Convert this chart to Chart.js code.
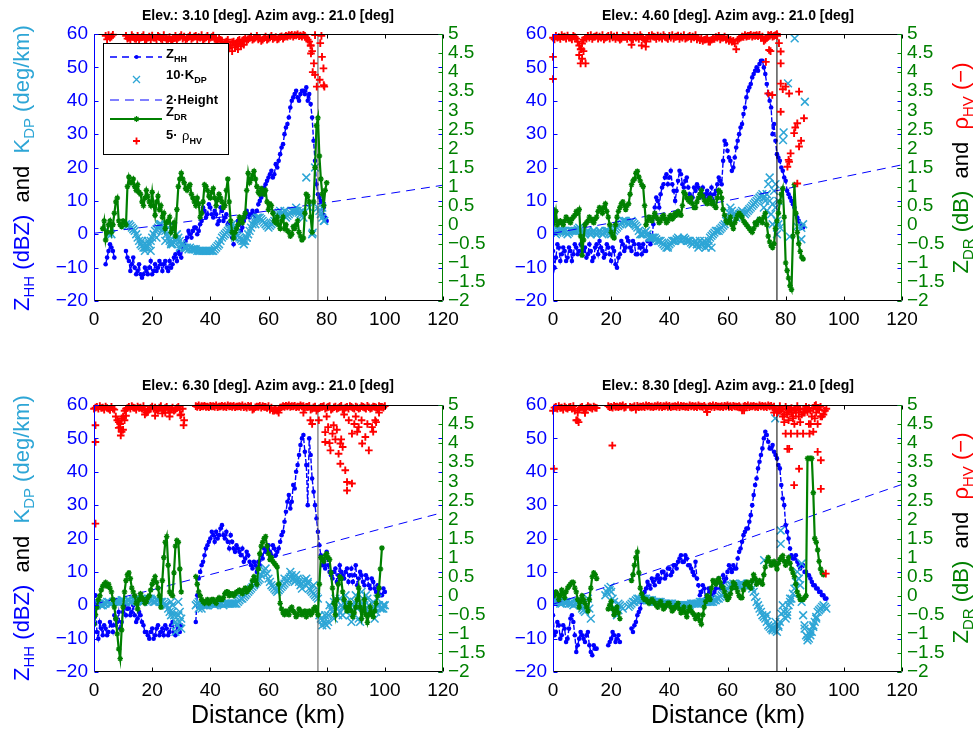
<!DOCTYPE html>
<html>
<head>
<meta charset="utf-8">
<script src="https://cdn.jsdelivr.net/npm/chart.js@4.4.0/dist/chart.umd.min.js"></script>
<style>
  body { margin: 0; background: #fff; width: 977px; height: 729px; position: relative; overflow: hidden;
         font-family: "Liberation Sans", Arial, sans-serif; }
  canvas { position: absolute; }
  .title { position: absolute; font-weight: bold; font-size: 14px; white-space: nowrap; transform: translate(-50%, -50%); }
  .ylab { position: absolute; font-size: 22px; white-space: nowrap; transform: translate(-50%, -50%) rotate(-90deg); }
  .xlab { position: absolute; font-size: 25px; white-space: nowrap; transform: translate(-50%, -50%); }
  .ylab sub { font-size: 15px; vertical-align: -0.3em; }
</style>
</head>
<body>
<canvas id="c1" width="488" height="364" style="left:0;top:0"></canvas>
<canvas id="c2" width="489" height="364" style="left:488px;top:0"></canvas>
<canvas id="c3" width="488" height="365" style="left:0;top:364px"></canvas>
<canvas id="c4" width="489" height="365" style="left:488px;top:364px"></canvas>

<div class="title" id="t1" style="left:268px;top:15px"></div>
<div class="title" id="t2" style="left:728px;top:15px"></div>
<div class="title" id="t3" style="left:268px;top:385px"></div>
<div class="title" id="t4" style="left:728px;top:385px"></div>

<div class="ylab" style="left:23px;top:168px"><span style="color:#0000ff">Z<sub>HH</sub> (dBZ)</span>&nbsp; and &nbsp;<span style="color:#2ea6d6">K<sub>DP</sub> (deg/km)</span></div>
<div class="ylab" style="left:23px;top:538px"><span style="color:#0000ff">Z<sub>HH</sub> (dBZ)</span>&nbsp; and &nbsp;<span style="color:#2ea6d6">K<sub>DP</sub> (deg/km)</span></div>
<div class="ylab" style="left:962px;top:168px"><span style="color:#008000">Z<sub>DR</sub> (dB)</span>&nbsp; and &nbsp;<span style="color:#ff0000">ρ<sub>HV</sub> (−)</span></div>
<div class="ylab" style="left:962px;top:538px"><span style="color:#008000">Z<sub>DR</sub> (dB)</span>&nbsp; and &nbsp;<span style="color:#ff0000">ρ<sub>HV</sub> (−)</span></div>
<div class="xlab" style="left:268px;top:714px">Distance (km)</div>
<div class="xlab" style="left:728px;top:714px">Distance (km)</div>

<script>
// ---- data: index i of a value array = i km, "Half" arrays hold the readings at i + 0.5 km ----
const titles = [
  "Elev.: 3.10 [deg]. Azim avg.: 21.0 [deg]",
  "Elev.: 4.60 [deg]. Azim avg.: 21.0 [deg]",
  "Elev.: 6.30 [deg]. Azim avg.: 21.0 [deg]",
  "Elev.: 8.30 [deg]. Azim avg.: 21.0 [deg]"
];
const radarLineKm = 77;
const heightKm = [0, 20, 40, 60, 80, 100, 120];

// panel 1 : 3.10 deg
const zhh1 = [null,null,null,null,-9,-5,-4,-7,null,null,null,-5,-8,-9,-10,-11,-12,-12,-11,-10,-12,-9,-10,-9,-9,-10,-8,-9,-6,-5,-7,-3,-1,0,1,2,1,4,7,6,8,5,6,4,7,5,3,2,-3,2,3,2,5,6,6,6,7,10,12,15,17,19,18,20,24,27,32,35,40,42,41,42,43,44,42,35,22,12,10,8,4];
const zhhHalf1 = [null,null,null,null,-7,-3,-5,null,null,null,null,-7,-11,-7,-12,-9,-13,-10,-12,-8,-11,-11,-8,-11,-8,-11,-10,-7,-8,-6,-4,-2,1,-1,2,0,3,8,5,9,6,7,3,8,4,6,1,-1,0,4,1,4,7,5,7,5,9,11,14,16,18,17,21,22,26,30,33,38,41,43,40,43,42,40,39,28,15,11,6,5,null];
const kdp1 = [null,null,null,null,null,0,0,null,null,null,null,3,3,2,1,-1,-3,-4,-4,-3,-1,1,2,3,2,0,-2,-3,-2,-1,-3,-4,-4,-4,-4.5,-4.5,-5,-5,-5,-5,-5,-5,-4,-3,-1,0,1,2,1,0,-1,-2,-2,0,2,4,5,5,4,3,2,3,4,6,7,6,5,6,7,7,7,6,5,17,8,0,20,8,6,4];
const kdpHalf1 = [null,null,null,null,null,0.5,null,null,null,null,null,2.5,2.5,1.5,0,-2,-3.5,-4,-3.5,-2,0,1.5,2.5,2.5,1,-1,-2.5,-2.5,-1.5,-2,-3.5,-4,-4.5,-4.5,-4.5,-5,-5,-5,-5,-5,-5,-4.5,-3.5,-2,-0.5,0.5,1.5,1.5,0.5,-0.5,-1.5,-2,-1,1,3,4.5,5,4.5,3.5,2.5,2.5,3.5,5,6.5,6.5,5.5,5.5,6.5,7,7,6.5,5.5,null,null,null,null,null,7,5,null];
const kdpExtra1 = [[16.5,-2],[17.5,-5],[18.5,-2],[19.5,-5],[21.5,-1],[22.5,3],[23.5,1],[24.5,-2],[25.5,2],[26.5,-3],[28.5,0],[29.5,-4],[47.5,3],[48.5,-1],[51.5,-3],[52.5,-1],[55.5,3],[65.5,7],[69.5,8],[71.5,7],[75.2,0.5],[78.5,8],[79.2,4]];
const zdr1 = [null,null,null,-0.1,-0.4,0.0,-0.2,0.3,0.7,0.0,0.1,0.0,1.25,1.1,1.0,1.05,0.8,0.5,0.9,0.6,0.85,0.25,0.75,0.5,0.3,0.05,0.2,-0.1,-0.3,1.0,1.35,1.1,0.9,1.05,0.7,0.5,0.55,0.3,1.05,0.9,0.7,0.95,0.5,0.8,0.6,0.5,1.2,0.1,-0.35,-0.1,0.2,0.05,0.3,1.35,1.2,1.4,1.0,0.8,0.9,0.9,0.4,0.5,0.1,0.2,-0.1,0.2,0.0,-0.2,-0.25,-0.1,0.1,-0.3,-0.35,0.8,0.6,-0.2,1.5,2.8,1.2,0.5,1.1];
const zdrHalf1 = [null,null,null,0.1,-0.2,0.1,0.0,0.6,0.1,-0.05,0.05,1.0,1.1,1.2,0.9,0.85,0.6,0.7,0.75,0.5,0.5,0.6,0.4,0.2,-0.1,0.1,-0.2,0.05,0.4,1.2,1.2,0.95,1.0,0.8,0.6,0.7,0.2,0.6,1.0,0.75,0.85,0.7,0.65,0.7,0.45,0.9,0.6,-0.2,-0.2,0.0,0.15,0.2,0.9,1.1,1.3,1.2,0.85,0.95,0.8,0.6,0.55,0.3,0.05,0.0,0.1,-0.1,-0.15,-0.3,-0.05,0.0,-0.2,-0.4,0.3,0.75,0.2,0.6,2.6,1.8,0.8,0.9,null];
const rho1 = [null,null,null,null,4.95,4.97,4.93,null,null,null,null,4.95,4.9,4.97,4.88,4.95,4.9,4.97,4.85,4.93,4.96,4.9,4.95,4.88,4.97,4.85,4.92,4.82,4.95,4.9,4.97,4.93,4.88,4.96,4.9,4.95,4.92,4.97,4.88,4.95,4.9,4.96,4.85,4.9,4.8,4.75,4.85,4.7,4.8,4.72,4.85,4.8,4.9,4.86,4.93,4.88,4.95,4.9,4.85,4.93,4.88,4.95,4.9,4.86,4.92,4.88,4.95,4.97,4.98,4.97,4.99,4.96,4.98,4.9,4.8,4.55,4.97];
const rhoHalf1 = [null,null,null,null,4.86,4.9,4.98,null,null,null,null,4.88,4.85,4.92,4.87,4.84,4.92,4.86,4.9,4.85,4.9,4.86,4.92,4.84,4.9,4.87,4.83,4.9,4.86,4.92,4.88,4.85,4.92,4.87,4.93,4.86,4.9,4.85,4.91,4.86,4.92,4.88,4.8,4.85,4.7,4.8,4.65,4.78,4.7,4.82,4.75,4.85,4.82,4.9,4.85,4.9,4.86,4.82,4.9,4.85,4.91,4.87,4.92,4.88,4.94,4.92,4.93,4.95,4.93,4.96,4.94,4.93,4.95,4.85,4.7,null,null];
const rhoExtra1 = [[44.5,4.58],[46.5,4.62],[47.5,4.55],[48.5,4.65],[49.5,4.6],[50.5,4.68],[51.5,4.72],[74.5,4.7],[74.6,4.49],[75.6,4.23],[76,3.93],[76.6,3.62],[75.2,4.0],[77.6,3.8],[77.8,4.76],[78.4,4.4],[78.9,4.1],[79,3.66],[79.2,3.62],[78.2,4.95]];
const height1 = [0.3, 2.4, 4.7, 7.0, 9.5, 12.0, 14.7];

// panel 2 : 4.60 deg
const zhh2 = [-5,-7,-4,-6,-5,-7,-5,-6,-4,-5,-1,-4,-6,-5,-7,-3,-2,-5,-6,-4,-8,-5,-10,-6,-3,-4,-2,-5,-3,-6,-4,-3,-5,0,-2,8,10,12,15,18,17,15,10,16,18,14,17,12,11,13,14,12,11,13,12,10,13,17,15,28,25,22,20,26,30,33,38,43,45,48,50,51,52,48,42,38,33,24,22,19,16,12,10,8,5,3,2];
const zhhHalf2 = [-10,-3,-8,-4,-8,-4,-8,-3,-6,-3,-5,-7,-3,-8,-4,-6,-4,-7,-3,-6,-4,-9,-7,-2,-5,-1,-4,-2,-6,-3,-6,-5,-2,-3,3,11,8,14,17,15,19,13,13,19,15,16,14,10,14,15,11,14,12,11,14,12,15,16,22,27,23,19,23,28,32,36,41,44,47,49,49,52,50,45,40,30,28,23,20,17,13,11,9,6,4,2,null];
const kdp2 = [1,0,1,1,1,0,1,1,1,2,1,0,1,0,1,0,1,0,1,1,0,1,2,3,4,4,3,4,3,2,0,0,1,-1,-1,-1,-2,-2,-3,-4,-3,-2,-2,-1,-2,-1,-2,-2,-3,-2,-4,-3,-2,-3,-1,0,1,1,2,3,5,8,6,5,6,7,6,7,8,9,10,11,12,10,15,6,13,4,2];
const kdpHalf2 = [0.5,0.5,1,1,0.5,0.5,1,1,1.5,1.5,0.5,0.5,0.5,0.5,0.5,0.5,0.5,0.5,1,0.5,0.5,1.5,2.5,3.5,4,3.5,3.5,3.5,2.5,1,0,0.5,0,-1,-1,-1.5,-2,-2.5,-3.5,-3.5,-2.5,-2,-1.5,-1.5,-1.5,-1.5,-2,-2.5,-2.5,-3,-3.5,-2.5,-2.5,-2,-0.5,0.5,1,1.5,2.5,4,6.5,7,5.5,5.5,6.5,6.5,6.5,7.5,8.5,9.5,10.5,11.5,11,12,10,9,8,3,null];
const kdpExtra2 = [[79.1,28.2],[79.3,30.5],[80.8,45.2],[83.1,58.7],[86.6,39.7],[81.4,-0.7],[85.4,-1.5],[85.4,1.9],[84,2.3],[86,3],[74.5,17],[73.5,12],[76.5,15],[77.5,10],[73.5,7],[75.5,3],[77,0],[72.5,8],[71.5,4],[54.5,-4],[52.5,-4],[50.5,-2],[53.5,-3.5],[39.5,-4],[49.5,-3]];
const zdr2 = [0.4,0.35,0.05,0.05,0.1,0.15,0.05,0.2,0.35,0.4,-0.8,0.0,0.1,0.15,0.05,0.2,0.45,0.3,0.55,0.2,-0.2,-0.35,0.2,0.45,0.6,0.4,0.55,1.05,1.2,1.4,1.15,1.0,0.0,0.2,0.1,0.3,0.15,0.1,0.25,0.05,0.2,0.15,0.3,0.35,0.25,0.85,0.7,0.6,0.55,0.45,0.7,0.9,0.65,0.55,0.7,0.6,0.45,0.9,0.7,0.25,0.05,0.2,-0.1,0.15,0.3,0.2,0.05,-0.05,-0.15,-0.1,0.0,0.15,0.05,0.3,-0.3,-0.55,-0.5,0.1,0.6,0.95,-1.0,-1.4,-1.7,1.05,-0.2,-0.7,-0.9];
const zdrHalf2 = [0.1,0.0,0.1,0.0,0.2,0.1,0.15,0.25,0.3,-0.3,-0.4,0.05,0.2,0.1,0.15,0.35,0.4,0.45,0.35,0.0,-0.3,0.0,0.35,0.55,0.5,0.5,0.8,1.15,1.35,1.25,1.05,0.5,0.1,0.15,0.2,0.2,0.05,0.2,0.15,0.1,0.25,0.2,0.25,0.3,0.5,0.8,0.65,0.7,0.45,0.6,0.8,0.75,0.6,0.65,0.55,0.5,0.7,0.85,0.4,0.1,0.1,0.0,0.05,0.25,0.25,0.1,0.0,-0.1,-0.2,0.05,0.1,0.1,0.2,0.0,-0.45,-0.6,-0.1,0.3,0.8,0.2,-1.2,-1.6,-0.3,0.3,-0.5,-0.85,null];
const rho2 = [4.9,4.95,4.92,4.97,4.93,4.96,4.9,4.95,4.88,4.7,4.75,4.9,4.95,4.97,4.92,4.96,4.93,4.97,4.9,4.95,4.97,4.93,4.96,4.85,4.95,4.92,4.97,4.9,4.95,4.93,4.97,4.9,4.8,4.95,4.97,4.92,4.96,4.93,4.97,4.9,4.95,4.97,4.92,4.96,4.93,4.97,4.9,4.95,4.93,4.97,4.9,4.88,4.85,4.9,4.8,4.88,4.92,4.95,4.9,4.93,4.88,4.85,4.82,4.6,4.88,4.93,4.97,4.95,4.98,4.96,4.97,4.98,4.93,4.85,4.97,4.98,4.95,5.0];
const rhoHalf2 = [4.86,4.9,4.87,4.92,4.88,4.9,4.86,4.92,4.8,4.6,4.85,4.88,4.9,4.87,4.93,4.88,4.9,4.86,4.92,4.88,4.91,4.87,4.9,4.88,4.92,4.87,4.91,4.86,4.9,4.87,4.92,4.85,4.9,4.88,4.93,4.87,4.9,4.88,4.92,4.87,4.9,4.88,4.93,4.87,4.9,4.88,4.92,4.87,4.91,4.86,4.84,4.82,4.86,4.8,4.85,4.87,4.9,4.86,4.9,4.85,4.82,4.8,4.75,4.85,4.9,4.92,4.93,4.95,4.93,4.95,4.94,4.9,4.82,4.9,4.95,4.93,4.97,null];
const rhoExtra2 = [[0,4.4],[0,3.82],[9,4.45],[9.5,4.23],[10,4.35],[10.5,4.55],[11.2,4.23],[9.8,4.6],[27,4.72],[30.5,4.7],[31.9,4.67],[73.2,4.27],[74.3,4.58],[74,3.44],[75.4,3.4],[74.8,4.55],[77.1,4.95],[77.7,4.76],[78.3,4.54],[78.3,4.23],[78.3,3.7],[79,3.55],[80,3.62],[81.2,3.44],[78.3,2.96],[84.6,3.49],[86.3,2.79],[84,2.66],[82.9,2.4],[83.3,2.55],[81.7,1.87],[81.2,1.65],[84.6,2.05],[85.3,2.2],[84,1.08],[80.6,1.52],[81,1.7]];
const height2 = [0.3, 3.4, 6.7, 10.1, 13.6, 17.2, 20.8];

// panel 3 : 6.30 deg
const zhh3 = [-2,-8,-5,-9,-7,-8,-6,-3,-5,-7,-2,-3,-1,-2,-3,-4,-3,-6,-8,-10,-7,-9,-6,-8,-9,-7,-8,-5,-9,-7,-6,null,null,null,null,-5,8,12,15,18,20,21,22,21,24,20,19,21,17,18,16,17,14,15,12,13,10,12,14,16,18,15,17,16,19,22,28,33,31,35,42,48,51,42,50,38,30,22,15,13,16,10,8,11,9,10,8,11,9,7,12,8,9,6,8,5,7,4,5,3,4];
const zhhHalf3 = [3,-10,-7,-6,-9,-5,-8,-6,-2,-5,0,-1,-3,0,-5,-2,-5,-8,-9,-8,-10,-7,-9,-7,-6,-9,-6,-8,-6,-8,null,null,null,null,null,3,10,13,17,19,22,19,20,23,21,22,17,19,16,17,15,13,16,13,11,12,13,15,17,17,16,18,15,17,21,25,31,29,36,40,45,50,46,30,45,34,26,18,12,11,12,9,10,7,12,9,10,7,11,9,6,10,7,9,6,8,5,6,3,5,null];
const kdp3 = [0,0,0.5,0,0.5,1,0.5,1,1,1,1.5,1,1.5,1,1.5,2,1.5,1,1.5,2,1.5,1,1.5,1,0.5,0,-2,0,-5,1,-7,null,null,null,null,0,1,-1,0,0,0.5,0.5,0.5,0.5,0.5,0.5,0.5,0.5,0.5,0.5,1.5,2,3,4,5,6,7,8,10,11,8,6,5,4,5,6,7,8,9,7,8,6,7,8,5,4,3,2,-4,-5,-6,0,-2,2,-3,0,-1,1,-3,0,3,-4,4,0,2,-3,1,-2,0,-1,0];
const kdpHalf3 = [0,0.5,0,0.5,1,0.5,1,1,1,1.5,1,1.5,1,1.5,2,2,1,1.5,2,2,1,1.5,1,1,0,-1,-3,-3,-6,-2,null,null,null,null,null,0.5,0,0,0,0.5,0.5,0,0.5,0.5,0,0.5,0.5,0.5,0.5,1,2,2.5,3.5,4.5,5.5,6.5,7.5,9,10.5,9.5,7,5.5,4.5,4.5,5.5,6.5,7.5,8.5,8,7.5,7,6.5,7.5,6.5,4.5,3.5,2.5,-3,-4.5,-5.5,-3,-1,1,-1,-2,-0.5,0,-1,-1.5,1,-1,0,2,-1,0,-1,-0.5,0,-1,0,null];
const kdpExtra3 = [[28,-8],[29,-3],[29.5,-5],[30,-4],[27,-2],[26.5,1],[36,-1],[78.5,-6],[79.5,-3],[80.5,-5],[82.5,-4],[84.5,2],[85.5,-3],[86.5,3],[88.5,-5],[90.5,-1],[91.5,-5],[93.5,3],[94.5,-2],[96.5,-4],[97.5,2],[99.5,-1],[65.5,8],[67.5,10],[69.5,9],[71.5,5],[73.5,7],[75.5,6]];
const zdr3 = [-0.75,-0.3,0.0,0.25,0.35,0.3,0.1,-0.3,-1.0,-1.65,-0.3,0.4,0.6,0.2,0.0,-0.35,0.05,-0.1,-0.15,0.0,0.3,0.5,0.2,-0.3,1.0,1.55,0.1,0.0,1.3,1.4,0.1,null,null,null,null,0.5,0.1,-0.1,-0.2,-0.1,-0.15,-0.1,-0.2,-0.05,-0.1,0.05,0.1,0.05,0.0,0.1,0.15,0.05,0.2,0.15,0.25,0.5,0.3,1.1,1.4,1.55,1.1,1.0,0.85,0.75,-0.2,-0.45,-0.4,-0.5,-0.3,-0.45,-0.5,-0.4,-0.45,-0.55,-0.4,-0.45,-0.3,-0.5,1.0,0.9,1.1,0.95,0.2,-0.5,0.3,0.45,-0.1,-0.4,-0.2,-0.55,-0.3,0.2,-0.6,-0.1,-0.7,-0.3,-0.55,-0.2,0.2,1.25];
const zdrHalf3 = [-0.5,-0.1,0.15,0.3,0.25,0.2,-0.1,-0.6,-1.4,-0.9,0.1,0.55,0.45,0.1,-0.2,-0.1,-0.05,-0.2,-0.05,0.15,0.4,0.35,0.0,0.4,1.4,0.8,0.05,0.6,1.45,0.7,null,null,null,null,null,0.3,0.0,-0.15,-0.15,-0.2,-0.1,-0.15,-0.1,-0.1,-0.05,0.1,0.0,0.05,0.05,0.1,0.1,0.15,0.1,0.2,0.4,0.4,0.7,1.3,1.5,1.3,0.95,0.9,0.8,0.3,-0.35,-0.5,-0.45,-0.35,-0.4,-0.55,-0.35,-0.5,-0.4,-0.45,-0.5,-0.35,-0.4,0.3,0.95,1.05,1.0,0.6,-0.2,-0.1,0.5,0.1,-0.3,-0.3,-0.4,-0.45,-0.1,-0.3,-0.4,-0.5,-0.5,-0.45,-0.4,0.0,0.7,null];
const rho3 = [4.9,4.95,4.97,4.93,4.96,4.9,4.95,4.88,4.6,4.5,4.7,4.9,4.95,4.97,4.92,4.96,4.93,4.97,4.8,4.9,4.96,4.93,4.85,4.97,4.9,4.95,4.8,4.93,4.88,4.95,4.75,4.6,null,null,null,4.97,4.99,4.97,4.98,4.96,4.98,4.97,4.99,4.96,4.98,4.97,4.99,4.97,4.98,4.96,4.97,4.99,4.96,4.98,4.97,4.9,4.96,4.98,4.97,4.95,4.97,4.93,4.9,4.85,4.93,4.97,4.98,4.99,4.97,4.98,4.96,4.99,4.97,4.95,4.98,4.9,4.96,4.9,4.95,4.97,4.93,4.97,4.9,4.96,4.92,4.98,4.9,4.95,4.97,4.92,4.96,4.9,4.97,4.93,4.98,4.9,4.96,4.93,4.97,4.95,4.97];
const rhoHalf3 = [4.93,4.9,4.92,4.88,4.92,4.87,4.9,4.7,4.4,4.65,4.85,4.92,4.9,4.93,4.88,4.92,4.9,4.85,4.88,4.92,4.9,4.88,4.93,4.87,4.92,4.88,4.9,4.85,4.92,4.88,4.9,null,null,null,null,4.95,4.94,4.96,4.95,4.94,4.96,4.95,4.94,4.96,4.95,4.94,4.96,4.95,4.94,4.96,4.95,4.94,4.93,4.95,4.88,4.94,4.95,4.93,4.95,4.92,4.88,4.85,4.88,4.9,4.94,4.95,4.96,4.95,4.96,4.94,4.95,4.96,4.92,4.95,4.88,4.94,4.85,4.92,4.95,4.9,4.95,4.88,4.94,4.9,4.95,4.88,4.93,4.9,4.95,4.9,4.94,4.92,4.95,4.9,4.94,4.92,4.95,4.9,4.95,4.93,null];
const rhoExtra3 = [[0.5,4.47],[0.5,4.03],[0.5,1.89],[8.5,4.55],[9,4.42],[9.5,4.3],[10,4.35],[10.5,4.6],[11,4.72],[9.2,4.2],[17.5,4.75],[18.5,4.82],[21,4.72],[23.5,4.78],[24.5,4.8],[26,4.7],[29.7,4.73],[30.8,4.47],[62,4.85],[63.5,4.8],[72,4.8],[74.4,4.6],[75,4.5],[77.3,4.6],[79.5,4.29],[79.5,4.03],[80.5,4.42],[81.3,3.81],[82.4,4.47],[82,4.25],[83,4.1],[84.1,3.72],[84.7,3.46],[84.7,3.99],[85.5,3.9],[86.4,3.29],[87,2.98],[88.7,2.94],[87,2.76],[87.6,4.6],[88.7,4.25],[89.5,4.5],[90,4.7],[91,4.42],[92.2,3.99],[93.3,4.16],[94.5,3.81],[95.6,4.42],[96.7,4.6],[96,4.3],[98,4.8],[86,4.75],[90.5,4.3],[92,4.6],[94,4.5],[97,4.55],[85,4.1],[83.5,4.35],[81,4.0],[80,4.7]];
const height3 = [0.3, 4.6, 9.2, 13.8, 18.5, 23.2, 27.8];

// panel 4 : 8.30 deg
const zhh4 = [-3,-8,-6,-9,-7,-10,-4,-5,-14,-10,-9,-11,-8,-14,-12,-13,null,null,null,-12,-10,-9,-10,-11,null,null,null,-7,-6,-3,-1,3,5,6,8,6,9,8,10,9,11,10,12,13,15,13,14,12,10,13,6,4,5,3,4,3,5,8,6,7,10,11,12,11,16,19,22,23,27,33,38,43,47,52,49,47,46,44,41,32,24,20,15,14,13,11,12,10,9,7,6,5,4,3,2];
const zhhHalf4 = [-9,-5,-10,-6,-11,-7,-3,-9,-12,-8,-10,-9,-12,-15,-13,null,null,null,null,-11,-8,-11,-9,null,null,null,null,-8,-5,-2,1,4,7,5,7,8,7,10,8,11,9,12,11,14,13,15,12,11,9,8,3,6,2,5,2,4,7,5,9,8,12,10,11,14,17,21,23,25,30,36,41,45,50,51,47,48,45,42,36,30,22,17,14,15,12,12,10,9,8,6,5,4,3,2,null];
const kdp4 = [1,1,1,0.5,1,1,0.5,0,1,1,-1,-2,2,-4,null,null,null,null,3,5,4,1,-3,0,-1,null,-0.5,0.5,1,2,1.5,2,2,1.5,1.5,1,1,1,0.5,0.5,0.5,0.5,0,0,0,0,0,0,0.5,0.5,0.5,1,1,1,1,1,1.5,2,3,4,5,6,6.5,6,6,6.5,6,6.5,6,4,1,-1,-3,-4,-6,-7,-7,-8,-5,0,-4,0,2,5,10,6,-3,-9,-10,-8,-5,-2,-1,0,-1];
const kdpHalf4 = [1,1,0.5,1,1,0.5,0.5,0.5,1,0,-1.5,0,-1,null,null,null,null,null,4,4.5,2,-1,-1.5,-0.5,null,null,0,1,1.5,2,2,2,1.5,1.5,1,1,1,0.5,0.5,0.5,0.5,0,0,0,0,0,0,0.5,0.5,0.5,1,1,1,1,1,1.5,2,2.5,3.5,4.5,5.5,6,6,6,6.5,6,6,6.5,5,2.5,0,-2,-3.5,-5,-6.5,-7,-7.5,-6.5,-2.5,-2,-2,1,3.5,7,8,1,-6,-9.5,-9,-6.5,-3.5,-1.5,-0.5,-0.5,null];
const kdpExtra4 = [[72.6,13.5],[76.4,56],[78.3,22.4],[78.3,18.4],[84.5,8],[85.5,12.5],[86.5,-7],[87.5,-10.5],[88.5,-8],[89.5,-6],[90.5,-4],[77.5,-6],[76.5,-5],[75.5,-7.5],[73.5,-3],[80.5,-3],[81.5,2],[19.8,5.5],[22.5,0.5],[21.5,-2]];
const zdr4 = [0.05,0.1,-0.1,0.15,-0.05,0.2,0.3,0.35,0.1,-0.3,0.0,-0.2,-0.4,0.2,0.6,0.45,null,null,null,-0.35,-0.15,-0.5,-0.3,-0.6,null,null,null,0.4,0.8,1.15,0.2,-0.05,-0.1,-0.2,-0.1,-0.2,-0.3,-0.15,-0.35,-0.25,-0.2,-0.4,-0.3,-0.2,-0.45,-0.3,-0.55,-0.3,-0.45,-0.6,-0.5,-0.75,-0.3,0.0,-0.1,0.4,0.3,0.45,0.25,0.1,-0.1,0.05,0.35,0.2,0.0,-0.05,0.3,0.35,0.2,0.55,0.3,0.4,0.3,0.75,1.0,0.8,0.9,0.7,0.95,1.05,0.8,1.0,0.7,0.5,0.1,-0.1,-0.1,0.0,3.6,3.6,1.5,1.2,0.7,0.55];
const zdrHalf4 = [0.0,0.05,0.0,0.05,0.1,0.25,0.35,0.2,-0.1,-0.15,-0.1,-0.3,-0.1,0.5,0.55,null,null,null,null,-0.25,-0.35,-0.4,-0.45,null,null,null,null,0.55,1.0,0.6,0.05,-0.1,-0.15,-0.15,-0.15,-0.25,-0.2,-0.25,-0.3,-0.2,-0.3,-0.35,-0.25,-0.35,-0.4,-0.45,-0.4,-0.4,-0.5,-0.55,-0.65,-0.5,-0.15,-0.05,0.2,0.35,0.4,0.35,0.2,0.0,-0.05,0.2,0.3,0.1,-0.05,0.15,0.35,0.25,0.4,0.45,0.35,0.35,0.55,0.9,0.9,0.85,0.8,0.85,1.0,0.9,0.9,0.85,0.6,0.3,0.0,-0.1,-0.05,3.6,3.6,2.7,1.4,0.9,0.6,null];
const rho4 = [4.85,4.95,4.97,4.93,4.96,4.9,4.95,4.97,4.6,4.9,4.95,4.8,4.97,4.93,4.96,4.92,null,null,null,4.97,4.95,4.98,4.96,4.97,4.99,4.95,null,4.93,4.97,4.98,4.96,4.97,4.99,4.98,4.96,4.97,4.99,4.98,4.97,4.99,4.98,4.96,4.97,4.99,4.98,4.97,4.96,4.99,4.98,4.97,4.99,4.96,4.98,4.82,4.97,4.99,4.98,4.96,4.97,4.98,4.99,4.97,4.98,4.96,4.97,4.86,4.98,4.99,4.97,4.98,4.96,4.99,4.98,4.97,4.99,4.98,4.96,4.8,4.97,4.9,4.95,4.85,4.92,4.88,4.97,4.9,4.8,4.95,4.92,4.7,4.98,4.9,4.95,4.75,4.9];
const rhoHalf4 = [4.93,4.9,4.92,4.88,4.92,4.94,4.9,4.85,4.8,4.93,4.88,4.92,4.94,4.9,4.93,null,null,null,null,4.94,4.93,4.95,4.94,4.96,4.93,null,4.95,4.94,4.88,4.94,4.95,4.94,4.96,4.95,4.94,4.96,4.95,4.94,4.96,4.95,4.94,4.96,4.95,4.94,4.96,4.95,4.94,4.96,4.95,4.94,4.96,4.95,4.94,4.96,4.95,4.94,4.96,4.95,4.94,4.96,4.95,4.94,4.96,4.95,4.94,4.96,4.95,4.94,4.96,4.95,4.94,4.96,4.95,4.94,4.96,4.93,4.9,4.85,4.88,4.75,4.8,4.9,4.7,4.8,4.88,4.75,4.9,4.82,4.85,4.9,4.8,4.88,4.7,4.85,null];
const rhoExtra4 = [[0.3,3.33],[8.4,4.6],[8.8,4.55],[11,4.8],[20.4,3.94],[53,4.82],[65.7,4.86],[76,4.8],[78,4.85],[79,4.7],[79.5,4.55],[80,4.25],[80.5,4.75],[81,4.6],[81.8,4.25],[82,4.8],[82.5,4.65],[83,4.5],[83.5,4.85],[84,4.25],[84.5,4.7],[85,4.55],[86,4.25],[80.6,3.85],[81.2,3.85],[84.6,3.33],[82.9,2.9],[86.5,4.8],[87,4.9],[88,4.5],[88.6,4.5],[88.2,4.25],[90.4,5.0],[91,4.5],[91,3.77],[92.1,3.55],[92.1,2.8],[93.8,0.58],[92,4.7],[90,4.65],[89.5,4.3]];
const height4 = [0.3, 6.0, 11.9, 17.9, 24.0, 30.2, 36.2];

// ---- styling ----
const BLUE = "#0000ff";
const CYAN = "#2ea6d6";
const GREEN = "#008000";
const RED = "#ff0000";
const FONT = "'Liberation Sans', Arial, sans-serif";
Chart.defaults.font.family = FONT;

function interleave(main, half) {
  const out = [];
  main.forEach((v, i) => {
    out.push({ x: i, y: v });
    if (i < half.length) out.push({ x: i + 0.5, y: half[i] });
  });
  return out;
}
function pairs(list) {
  return list.map(p => ({ x: p[0], y: p[1] }));
}
function fmt(v) {
  return String(Math.round(v * 10) / 10).replace("-", "\u2212");
}

// axes box + inward ticks like matlab
const framePlugin = {
  id: "frame",
  afterDraw(chart) {
    const { ctx, chartArea: a, scales } = chart;
    const L = Math.round(a.left) + 0.5, R = Math.round(a.right) - 0.5;
    const T = Math.round(a.top) + 0.5, B = Math.round(a.bottom) - 0.5;
    ctx.save();
    ctx.lineWidth = 1;
    ctx.setLineDash([]);
    ctx.strokeStyle = "#000";
    ctx.beginPath();
    scales.x.ticks.forEach(t => {
      const px = Math.round(scales.x.getPixelForValue(t.value)) + 0.5;
      ctx.moveTo(px, B); ctx.lineTo(px, B - 4);
      ctx.moveTo(px, T); ctx.lineTo(px, T + 4);
    });
    ctx.moveTo(L, T); ctx.lineTo(R, T);
    ctx.moveTo(L, B); ctx.lineTo(R, B);
    ctx.stroke();
    ctx.strokeStyle = BLUE;
    ctx.beginPath();
    scales.y.ticks.forEach(t => {
      const py = Math.round(scales.y.getPixelForValue(t.value)) + 0.5;
      ctx.moveTo(L, py); ctx.lineTo(L + 4, py);
      ctx.moveTo(R, py); ctx.lineTo(R - 4, py);
    });
    ctx.moveTo(L, T); ctx.lineTo(L, B);
    ctx.stroke();
    ctx.strokeStyle = GREEN;
    ctx.beginPath();
    scales.y2.ticks.forEach(t => {
      const py = Math.round(scales.y2.getPixelForValue(t.value)) + 0.5;
      ctx.moveTo(R, py); ctx.lineTo(R - 4, py);
    });
    ctx.moveTo(R, T); ctx.lineTo(R, B);
    ctx.stroke();
    ctx.restore();
  }
};

function subText(ctx, x, y, main, sub, mainFont) {
  ctx.font = mainFont || "bold 13px " + FONT;
  ctx.fillText(main, x, y);
  const w = ctx.measureText(main).width;
  ctx.font = "bold 9px " + FONT;
  ctx.fillText(sub, x + w, y + 4);
}

// legend box of the first panel
const legendBox = {
  id: "legendBox",
  afterDraw(chart) {
    const ctx = chart.ctx;
    ctx.save();
    ctx.fillStyle = "#fff";
    ctx.fillRect(103, 43, 125, 111);
    ctx.strokeStyle = "#000";
    ctx.lineWidth = 1;
    ctx.strokeRect(103.5, 43.5, 125, 111);

    // Z_HH
    ctx.strokeStyle = BLUE; ctx.lineWidth = 1.5; ctx.setLineDash([7, 5]);
    ctx.beginPath(); ctx.moveTo(110, 57); ctx.lineTo(162, 57); ctx.stroke();
    ctx.setLineDash([]);
    ctx.fillStyle = BLUE;
    ctx.beginPath(); ctx.arc(136.5, 57, 2, 0, Math.PI * 2); ctx.fill();
    // 10 K_DP
    ctx.strokeStyle = CYAN; ctx.lineWidth = 1.3;
    ctx.beginPath();
    ctx.moveTo(133, 76); ctx.lineTo(140, 83); ctx.moveTo(140, 76); ctx.lineTo(133, 83);
    ctx.stroke();
    // 2 Height
    ctx.strokeStyle = BLUE; ctx.lineWidth = 1; ctx.setLineDash([9, 6]);
    ctx.beginPath(); ctx.moveTo(110, 100); ctx.lineTo(162, 100); ctx.stroke();
    ctx.setLineDash([]);
    // Z_DR
    ctx.strokeStyle = GREEN; ctx.lineWidth = 2;
    ctx.beginPath(); ctx.moveTo(110, 119); ctx.lineTo(162, 119); ctx.stroke();
    ctx.lineWidth = 1.2;
    ctx.beginPath();
    ctx.moveTo(133.5, 119); ctx.lineTo(139.5, 119); ctx.moveTo(136.5, 116); ctx.lineTo(136.5, 122);
    ctx.moveTo(134.5, 117); ctx.lineTo(138.5, 121); ctx.moveTo(138.5, 117); ctx.lineTo(134.5, 121);
    ctx.stroke();
    // 5 rho_HV
    ctx.strokeStyle = RED; ctx.lineWidth = 1.8;
    ctx.beginPath();
    ctx.moveTo(133, 141); ctx.lineTo(140, 141); ctx.moveTo(136.5, 137.5); ctx.lineTo(136.5, 144.5);
    ctx.stroke();

    ctx.fillStyle = "#000";
    ctx.textBaseline = "alphabetic";
    subText(ctx, 166, 58, "Z", "HH");
    subText(ctx, 166, 79, "10\u00b7K", "DP");
    ctx.font = "bold 13px " + FONT;
    ctx.fillText("2\u00b7Height", 166, 104);
    subText(ctx, 166, 116, "Z", "DR");
    ctx.font = "bold 13px " + FONT;
    ctx.fillText("5\u00b7", 166, 139);
    subText(ctx, 182, 140, "\u03c1", "HV", "13px " + FONT);
    ctx.restore();
  }
};

const panels = [
  { id: "c1", zhh: zhh1, zhhHalf: zhhHalf1, kdp: kdp1, kdpHalf: kdpHalf1, kdpExtra: kdpExtra1, zdr: zdr1, zdrHalf: zdrHalf1,
    rho: rho1, rhoHalf: rhoHalf1, rhoExtra: rhoExtra1, height: height1,
    pad: { top: 34, left: 94, right: 45, bottom: 63 }, vColor: "#555", legend: true },
  { id: "c2", zhh: zhh2, zhhHalf: zhhHalf2, kdp: kdp2, kdpHalf: kdpHalf2, kdpExtra: kdpExtra2, zdr: zdr2, zdrHalf: zdrHalf2,
    rho: rho2, rhoHalf: rhoHalf2, rhoExtra: rhoExtra2, height: height2,
    pad: { top: 34, left: 65, right: 75, bottom: 63 }, vColor: "#000", legend: false },
  { id: "c3", zhh: zhh3, zhhHalf: zhhHalf3, kdp: kdp3, kdpHalf: kdpHalf3, kdpExtra: kdpExtra3, zdr: zdr3, zdrHalf: zdrHalf3,
    rho: rho3, rhoHalf: rhoHalf3, rhoExtra: rhoExtra3, height: height3,
    pad: { top: 41, left: 94, right: 45, bottom: 57 }, vColor: "#555", legend: false },
  { id: "c4", zhh: zhh4, zhhHalf: zhhHalf4, kdp: kdp4, kdpHalf: kdpHalf4, kdpExtra: kdpExtra4, zdr: zdr4, zdrHalf: zdrHalf4,
    rho: rho4, rhoHalf: rhoHalf4, rhoExtra: rhoExtra4, height: height4,
    pad: { top: 41, left: 65, right: 75, bottom: 57 }, vColor: "#000", legend: false }
];

function makePanel(p, idx) {
  document.getElementById("t" + (idx + 1)).textContent = titles[idx];
  const tickFont = { size: 19, family: FONT };
  new Chart(document.getElementById(p.id), {
    type: "scatter",
    data: {
      datasets: [
        { label: "5 rho_HV", data: interleave(p.rho, p.rhoHalf).concat(pairs(p.rhoExtra)), yAxisID: "y2",
          pointStyle: "cross", pointRadius: 3.8, borderColor: RED, borderWidth: 1.9, showLine: false, clip: false },
        { label: "Z_DR", data: interleave(p.zdr, p.zdrHalf), yAxisID: "y2", showLine: true, spanGaps: false,
          borderColor: GREEN, borderWidth: 2.2, pointStyle: "star", pointRadius: 2.8,
          pointBorderColor: GREEN, pointBorderWidth: 1.4 },
        { label: "radar", data: [{ x: radarLineKm, y: -20 }, { x: radarLineKm, y: 60 }], yAxisID: "y",
          showLine: true, borderColor: p.vColor, borderWidth: 1, pointRadius: 0 },
        { label: "2 Height", data: heightKm.map((k, i) => ({ x: k, y: p.height[i] })), yAxisID: "y",
          showLine: true, borderColor: BLUE, borderWidth: 1, borderDash: [9, 6], pointRadius: 0 },
        { label: "10 K_DP", data: interleave(p.kdp, p.kdpHalf).concat(pairs(p.kdpExtra)), yAxisID: "y",
          pointStyle: "crossRot", pointRadius: 5.5, borderColor: CYAN, borderWidth: 1.5, showLine: false },
        { label: "Z_HH", data: interleave(p.zhh, p.zhhHalf), yAxisID: "y", showLine: true, spanGaps: false,
          borderColor: BLUE, borderWidth: 1.4, borderDash: [5, 2], pointRadius: 2.3,
          pointBackgroundColor: BLUE, pointBorderWidth: 0 }
      ]
    },
    options: {
      responsive: false,
      animation: false,
      devicePixelRatio: 1,
      layout: { padding: { top: p.pad.top, left: 0, right: 0, bottom: 0 } },
      plugins: { legend: { display: false }, tooltip: { enabled: false } },
      scales: {
        x: { type: "linear", min: 0, max: 120,
             ticks: { stepSize: 20, color: "#000", font: tickFont, padding: 7, autoSkip: false, maxRotation: 0 },
             grid: { display: false, drawTicks: false }, border: { display: false },
             afterFit: s => { s.height = p.pad.bottom; } },
        y: { position: "left", min: -20, max: 60,
             ticks: { stepSize: 10, color: BLUE, font: tickFont, padding: 6, autoSkip: false, callback: fmt },
             grid: { display: false, drawTicks: false }, border: { display: false },
             afterFit: s => { s.width = p.pad.left; } },
        y2: { position: "right", min: -2, max: 5,
              ticks: { stepSize: 0.5, color: GREEN, font: tickFont, padding: 5, autoSkip: false, callback: fmt },
              grid: { display: false, drawTicks: false }, border: { display: false },
              afterFit: s => { s.width = p.pad.right; } }
      }
    },
    plugins: p.legend ? [framePlugin, legendBox] : [framePlugin]
  });
}

panels.forEach(makePanel);
</script>
</body>
</html>
